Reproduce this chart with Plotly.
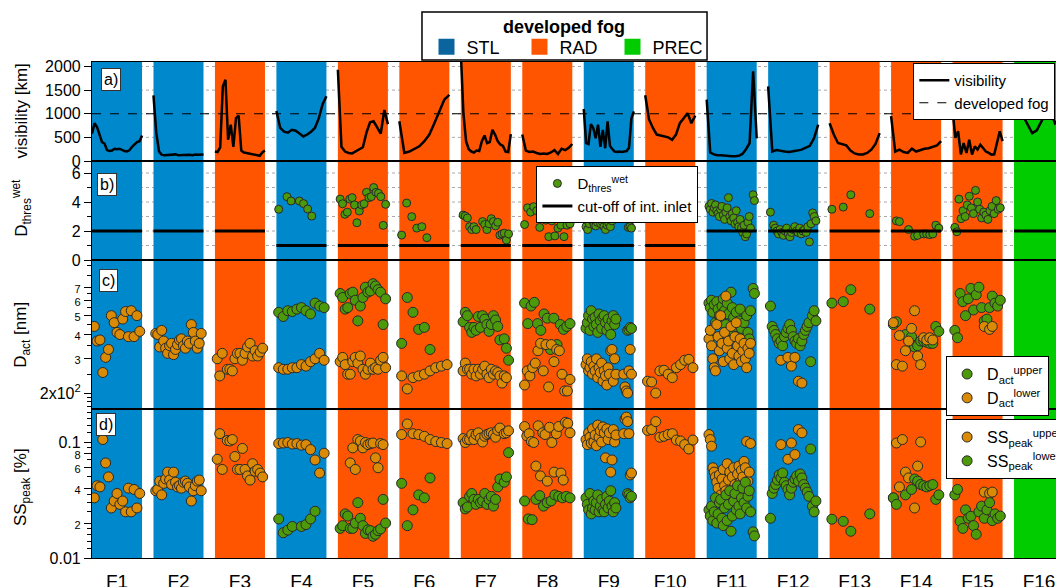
import math
import plotly.graph_objects as go
from plotly.subplots import make_subplots

# ---------------- data ----------------
FOG_LABELS = ["F1", "F2", "F3", "F4", "F5", "F6", "F7", "F8",
              "F9", "F10", "F11", "F12", "F13", "F14", "F15", "F16"]
FOG_TYPES = ["STL", "STL", "RAD", "STL", "RAD", "RAD", "RAD", "RAD",
             "STL", "RAD", "STL", "STL", "RAD", "RAD", "RAD", "PREC"]
TYPE_NAMES = ["STL", "RAD", "PREC"]
FOG_VIS_THRESHOLD = 1000
CUTOFF = [2, 2, 2, 1, 1, 1, 1, 1, 1, 1, 2, 2, 2, 2, 2, 2]

VISIBILITY = [
    [580, 800, 720, 560, 400, 370, 230, 210, 220, 260, 250, 260, 230, 210, 200, 230, 300, 360, 400, 420, 540],
    [1390, 600, 200, 130, 120, 125, 130, 140, 140, 120, 125, 120, 125, 130, 120, 135, 130, 125, 135],
    [200, 190, 290, 1580, 1720, 450, 770, 300, 910, 960, 220, 180, 170, 160, 150, 130, 120, 110, 180, 220],
    [1060, 700, 620, 600, 660, 640, 580, 520, 560, 620, 700, 900, 1200, 1370],
    [1930, 300, 200, 170, 160, 200, 240, 290, 600, 820, 840, 700, 580, 1080, 780],
    [840, 170, 200, 250, 310, 420, 560, 800, 1050, 1300, 1400],
    [2300, 1000, 420, 250, 200, 180, 220, 210, 420, 540, 380, 400, 660, 560, 420, 350, 320, 200, 190, 570],
    [560, 220, 190, 200, 170, 150, 160, 150, 180, 230, 150, 260, 230, 280, 360],
    [1100, 380, 360, 780, 700, 480, 770, 300, 660, 270, 840, 320, 250, 200, 190, 200, 190, 200, 210, 280, 900, 1050],
    [1390, 880, 700, 560, 540, 520, 500, 450, 560, 800, 900, 1010, 800, 960],
    [1300, 180, 140, 120, 120, 110, 110, 100, 100, 110, 150, 250, 380, 1900, 480],
    [1580, 200, 230, 210, 200, 190, 200, 220, 240, 280, 320, 480, 770],
    [800, 560, 380, 350, 330, 220, 160, 140, 140, 170, 240, 360, 590],
    [950, 200, 240, 190, 170, 260, 200, 230, 260, 270, 300, 330, 420],
    [1080, 490, 630, 140, 380, 170, 450, 135, 310, 240, 345, 275, 200, 170, 135, 140, 420, 630, 420],
    [1500, 1250, 950, 760, 590, 650, 850, 1020, 1050, 800, 900, 1000],
]

D_THRES = [
    [], [], [],
    [3.5, None, 4.37, 4.07, None, 4.07, 3.89, 3.52, 3.03, None, None, None],
    [4.2, 3.88, 3.15, 3.3, 4.2, 4.3, 3.8, 2.57, 3.38, 3.8, 3.88, 4.67, 4.3, 4.37, 5.0, 4.67, 4.6, 4.37, 2.39, 3.84],
    [1.72, 3.93, 2.99, 2.2, 2.3, 1.54, None, None, None, None],
    [3.1, 3.03, 2.9, 2.3, 2.1, 2.3, 2.1, None, None, 2.65, 2.45, 2.1, 2.5, 2.85, 2.65, 2.35, 2.6, 1.72, 1.8, 1.85, 1.38, 1.8],
    [2.45, 3.6, 3.3, 3.68, 3.4, 2.25, 2.95, 2.75, 1.61, 2.7, 1.66, 2.2, 2.4, 1.61, 2.4, 2.5],
    [2.3, 2.1, 2.5, 2.97, 2.7, 2.4, 2.35, 2.6, 2.8, 2.5, 2.65, 2.3, 2.1, 2.4, 2.55, 2.3, 2.7,
     None, None, None, None, None, None, None, None, None, 2.25, 2.3, 2.2],
    [],
    [3.7, 3.5, 3.9, 3.3, 3.6, 3.8, 3.4, 3.2, 3.0, 3.5, 3.7, 3.1, 2.8, 3.3, 3.6, 4.3, 3.0, 2.7, 3.2, 2.9,
     2.5, 3.4, 2.6, 2.3, 2.8, 2.2, 1.9, 2.4, 1.6, 1.8, 2.6, 3.0, 2.2, None, 4.5, 4.1],
    [3.3, None, 2.4, 2.2, 2.0, 1.8, 2.1, 1.9, 1.7, 2.0, 2.2, 1.8, 1.6, 1.9, 2.1, 2.3, 2.0, 1.9, 2.2, 1.8,
     2.0, 2.1, 1.9, 2.3, 1.25, 2.5, 3.25, 3.0, 2.7],
    [3.5, None, None, 3.65, None, 4.5, None, None, None, None, 3.2, None, None],
    [None, 2.7, 2.65, None, None, 2.1, None, 1.64, 1.7, None, 1.8, 1.8, 1.75, 1.8, 2.4, 2.2],
    [2.25, 1.95, 4.2, 2.85, 3.4, 3.0, 3.8, 4.4, 3.6, 3.2, 4.8, 4.0, 3.5, 2.9, 3.3, 3.1, 2.8, 3.4, 3.7, 3.2, 4.1, 3.5, 3.6],
    [],
]

D_UPPER = [
    [], [], [],
    [520, 495, 530, 525, 540, 550, 530, 510, 580, 560, 550],
    [650, 620, 540, 550, 650, 660, 600, 470, 560, 620, 700, 660, 670, 730, 710, 680, 660, 450, 610],
    [360, 620, 520, 425, 435, 335, None, None, None],
    [465, 520, 500, 435, 410, 435, 420, 495, 435, 500, 480, 450, 415, 450, 500, 475, 440, 375, None, 380, 340, 295],
    [580, 455, 560, 585, 455, 420, 510, 485, 335, 485, 355, 450, 425, 440, 455],
    [430, 460, 500, 420, 530, 480, 440, 490, 450, 410, 510, 470, 430, 490, 500, 460, 420, 480, 440, 400,
     470, 500, 450, 480, None, None, None, None, None, None, None, None, 420, 425, 435, 430],
    [],
    [580, 550, 600, 520, 570, 460, 590, 540, 500, 480, 560, 610, 530, 450, 580, 510, 420, 660, 550, 490,
     440, 520, 390, 470, 540, 430, 360, 460, 340, 500, 410, 380, 530, None, 690, 650],
    [560, 440, 420, 400, 380, 360, 370, 350, 390, 410, 430, 450, 420, 390, 370, 360, 380, 350, 370, 400,
     420, 440, 460, 290, 500, 530, 470],
    [580, None, None, 590, None, 680, None, None, None, None, 540, None, None],
    [450, 465, None, None, 400, None, 390, 345, 350, 370, 370, 365, 360, 360, 440, 415],
    [420, 385, 650, 590, 500, 610, 690, 535, 640, 700, 550, 470, 480, 550, 630, 580, 560, 600],
    [],
]

D_LOWER = [
    [440, 370, 375, 255, 305, 335, 500, 460, 410, 400, 480, 525, 390, 530, 390, 500, 415],
    [405, 400, 345, 420, 370, 340, 320, 350, 360, 315, 335, 355, 375, 380, 350, 340, 370, 360, 450, 410, 370, 340, 360, 405],
    [300, 245, 320, None, 265, 265, 260, 300, 320, 320, 295, 320, 345, 360, 310, 330, 310, 325, 340],
    [270, 265, 265, 270, 270, 280, 275, 290, 300, 320, 295],
    [290, 305, 280, 250, 250, 290, 305, 285, 310, 265, 250, 265, 285, 265, 270, 265, 295, 305, 270],
    [245, 210, 240, 245, 250, 260, 270, 275, 280],
    [260, 285, 265, 265, 250, 265, 245, 265, 250, 265, 275, 250, 240, 265, 250, 260, 255, 245, 225, 245, 240, None],
    [220, 260, 245, 270, 285, 330, 360, 260, 355, 215, 355, 290, 335, 330, 250, 205, 205, 235],
    [280, 300, 260, 270, 290, 250, 275, 260, 300, 240, 270, 255, 285, 230, 260, 245, 220, 270, 250, 330,
     335, 230, 300, 250, None, None, None, None, None, 250, 215, 205, 200, 260, 335, 250],
    [230, 228, 200, 260, 262, 250, 240, 270, 280, 295, 298, 270],
    [380, 420, 350, 300, 270, 260, 450, 390, 330, 500, 360, 290, 410, 630, 340, 370, 300, 440, 320, 280,
     390, 460, 350, 310, 380, 290, 330, 360, 300, 270, 340, 320, 360, None, None, None],
    [None, None, None, 295, None, 305, 275, 305, 230, 225, None, None, None, None],
    [],
    [460, 280, 395, 275, 330, 370, 430, 530, 310, 280, 385, 375, 385, 375, None, None],
    [None, None, None, None, None, None, None, None, None, None, None, 440, None, 425, 440, None, None, None],
    [],
]

SS_UPPER = [
    [0.033, 0.042, 0.041, 0.105, 0.066, 0.050, 0.027, 0.031, 0.036, 0.029, 0.031, 0.025, 0.040, 0.025, 0.039, 0.027, 0.036],
    [0.038, 0.039, 0.046, 0.035, 0.044, 0.048, 0.055, 0.047, 0.043, 0.055, 0.045, 0.041, 0.042, 0.040, 0.045, 0.046,
     0.044, 0.041, 0.031, 0.038, 0.042, 0.046, 0.047, 0.038],
    [0.071, 0.118, 0.058, None, 0.103, 0.102, 0.105, 0.075, 0.058, 0.058, 0.088, 0.058, 0.051, 0.047, 0.065, 0.056,
     0.058, 0.054, 0.050],
    [0.097, 0.098, 0.099, 0.096, 0.097, 0.094, 0.095, 0.086, 0.070, 0.054, 0.080],
    [None, None, None, None, 0.066, 0.089, 0.058, 0.105, 0.102, 0.089, 0.099, 0.095, 0.097, 0.098, 0.073, 0.060,
     0.097, 0.095, None],
    [0.116, 0.143, 0.118, 0.116, 0.112, 0.105, 0.101, 0.099, 0.097],
    [0.107, 0.099, 0.105, 0.105, 0.116, 0.105, 0.116, 0.120, 0.108, 0.100, 0.112, 0.116, 0.118, 0.120, 0.116, 0.110,
     0.126, 0.132, None, 0.118, 0.120, 0.125],
    [0.136, 0.113, 0.118, 0.101, 0.099, 0.062, 0.138, 0.051, 0.120, 0.116, 0.046, 0.134, 0.099, 0.055, 0.118, 0.136,
     0.054, 0.047, 0.148, 0.145, 0.120],
    [0.105, 0.095, 0.12, 0.11, 0.098, 0.13, 0.1, 0.115, 0.093, 0.14, 0.11, 0.125, 0.1, 0.135, 0.12, 0.073, 0.13,
     0.105, 0.12, 0.055, 0.07, 0.128, 0.1, 0.115, None, None, None, None, None, 0.118, 0.158, 0.164, 0.15, 0.118,
     0.052, 0.054],
    [0.126, 0.128, 0.150, 0.110, 0.112, 0.116, 0.118, 0.104, 0.102, 0.095, 0.087, 0.104],
    [0.116, 0.105, 0.092, 0.060, 0.055, 0.050, 0.045, 0.040, 0.052, 0.035, 0.048, 0.058, 0.042, 0.038, 0.065, 0.047,
     0.055, 0.036, 0.050, 0.060, 0.043, 0.040, 0.053, 0.062, 0.045, 0.057, 0.050, 0.068, 0.060, 0.101, 0.046, 0.055,
     0.097, None, None, None],
    [None, None, None, 0.095, None, 0.071, 0.098, 0.078, 0.128, 0.120, None, None, None, None],
    [],
    [0.033, 0.098, 0.041, 0.105, 0.055, 0.049, None, 0.027, 0.062, 0.100, None, None, None, None, None, None],
    [None, None, None, None, None, None, None, None, None, None, None, 0.037, None, 0.036, 0.037, None, None, None],
    [],
]

SS_LOWER = [
    [], [], [],
    [0.0217, 0.0165, 0.0174, 0.0187, None, 0.0187, 0.0194, 0.0217, 0.0253, None, None],
    [0.018, 0.019, 0.024, 0.023, 0.018, 0.018, 0.020, 0.030, 0.022, 0.019, 0.0163, 0.0175, 0.0172, 0.0154, 0.016,
     0.0172, 0.0178, 0.032, 0.020],
    [0.044, 0.019, 0.026, 0.035, 0.033, 0.049, None, None, None],
    [0.030, 0.0265, 0.0275, 0.034, 0.036, 0.032, 0.029, 0.032, 0.030, 0.031, 0.036, 0.029, 0.032, 0.034, 0.028,
     0.032, 0.041, 0.048, None, 0.045, 0.050, 0.081],
    [0.031, 0.0217, 0.0214, 0.032, 0.0345, 0.028, 0.030, 0.031, 0.035, 0.034, 0.033, 0.034, 0.033],
    [0.033, 0.029, 0.026, 0.036, 0.024, 0.027, 0.031, 0.026, 0.030, 0.035, 0.025, 0.028, 0.032, 0.026, 0.025, 0.029,
     0.034, 0.027, 0.031, 0.038, 0.028, 0.025, 0.030, 0.027, None, None, None, None, None, None, None, None,
     0.036, 0.035, 0.033, 0.034],
    [],
    [0.026, 0.023, 0.028, 0.021, 0.025, 0.033, 0.020, 0.024, 0.030, 0.032, 0.022, 0.019, 0.027, 0.035, 0.021, 0.029,
     0.038, 0.017, 0.023, 0.031, 0.036, 0.026, 0.042, 0.028, 0.024, 0.033, 0.040, 0.030, 0.045, 0.027, 0.034, 0.038,
     0.025, None, 0.0168, 0.0155],
    [0.022, 0.036, 0.040, 0.043, 0.047, 0.052, 0.049, 0.054, 0.045, 0.042, 0.039, 0.035, 0.040, 0.045, 0.048, 0.051,
     0.046, 0.053, 0.049, 0.043, 0.040, 0.037, 0.034, 0.087, 0.028, 0.025, 0.031],
    [0.0216, None, None, 0.0207, None, 0.017, None, None, None, None, 0.024, None, None],
    [0.033, 0.029, None, None, 0.035, None, 0.039, 0.048, 0.046, 0.043, 0.042, 0.041, 0.042, 0.043, 0.032, 0.035],
    [0.035, 0.039, 0.0207, 0.018, 0.026, 0.022, 0.0229, 0.019, 0.016, 0.025, 0.028, 0.022, 0.026, 0.030, 0.021,
     0.024, 0.022, 0.023],
    [],
]

# grid / tick values per panel
VIS_TICKS = [0, 500, 1000, 1500, 2000]
THRES_TICKS = [0, 2, 4, 6]
THRES_MINOR = [1, 3, 5]
DACT_TICKS = [200, 300, 400, 500, 600, 700]
DACT_MINOR = [170, 180, 190, 250, 350, 450, 550, 650, 800, 900]
SS_TICKS = [0.01, 0.02, 0.04, 0.06, 0.08, 0.1]
SS_MINOR = [0.012, 0.014, 0.016, 0.018, 0.025, 0.03, 0.035, 0.05, 0.07, 0.09, 0.12, 0.14, 0.16, 0.18]

# ---------------- styles ----------------
FONT = "Liberation Sans, Arial, sans-serif"
TYPE_COLORS = {"STL": "#0088CC", "RAD": "#FF5500", "PREC": "#00CC00"}
LEGEND_SWATCH = {"STL": "#0A649E", "RAD": "#FF5500", "PREC": "#00CC00"}
GREEN_PT = "#4C9A0A"
ORANGE_PT = "#DA8A04"
EDGE = "#2a2a2a"
GRID_COLOR = "#a8a8a8"
COL_HALF = 0.407
PT_HALF = 0.37
X_MIN, X_MAX = 0.593, 16.276


def spread(series, half, gap=True):
    xs, ys = [], []
    for i, vals in enumerate(series):
        n = len(vals)
        for k, v in enumerate(vals):
            x = (i + 1) if n == 1 else (i + 1 - half + 2 * half * k / (n - 1))
            xs.append(x)
            ys.append(v)
        if gap:
            xs.append(None)
            ys.append(None)
    return xs, ys


fig = make_subplots(rows=4, cols=1, shared_xaxes=True, vertical_spacing=0,
                    row_heights=[99, 99, 149, 149])

# legend 1: fog types (dummy entries)
for t in TYPE_NAMES:
    fig.add_trace(go.Scatter(x=[None], y=[None], mode="markers", name=t,
                             marker=dict(symbol="square", size=16, color=LEGEND_SWATCH[t]),
                             legend="legend", showlegend=True), row=1, col=1)

# panel a
vx, vy = spread(VISIBILITY, COL_HALF)
fig.add_trace(go.Scatter(x=vx, y=vy, mode="lines", name="visibility",
                         line=dict(color="black", width=2.5), legend="legend2"), row=1, col=1)
fig.add_trace(go.Scatter(x=[X_MIN, X_MAX], y=[FOG_VIS_THRESHOLD, FOG_VIS_THRESHOLD], mode="lines",
                         name="developed fog", line=dict(color="black", width=1.2, dash="dash"),
                         legend="legend2"), row=1, col=1)

# panel b
tx, ty = spread(D_THRES, PT_HALF, gap=False)
fig.add_trace(go.Scatter(x=tx, y=ty, mode="markers", name="D<sub>thres</sub><sup>wet</sup>",
                         marker=dict(color=GREEN_PT, size=8, line=dict(color=EDGE, width=1)),
                         legend="legend3"), row=2, col=1)
cx, cy = spread([[c, c] for c in CUTOFF], COL_HALF)
fig.add_trace(go.Scatter(x=cx, y=cy, mode="lines", name="cut-off of int. inlet",
                         line=dict(color="black", width=3), legend="legend3"), row=2, col=1)

# panel c
ux, uy = spread(D_UPPER, PT_HALF, gap=False)
lx, ly = spread(D_LOWER, PT_HALF, gap=False)
fig.add_trace(go.Scatter(x=ux, y=uy, mode="markers", name="D<sub>act</sub><sup>upper</sup>",
                         marker=dict(color=GREEN_PT, size=10, line=dict(color=EDGE, width=1)),
                         legend="legend4"), row=3, col=1)
fig.add_trace(go.Scatter(x=lx, y=ly, mode="markers", name="D<sub>act</sub><sup>lower</sup>",
                         marker=dict(color=ORANGE_PT, size=10, line=dict(color=EDGE, width=1)),
                         legend="legend4"), row=3, col=1)

# panel d
sux, suy = spread(SS_UPPER, PT_HALF, gap=False)
slx, sly = spread(SS_LOWER, PT_HALF, gap=False)
fig.add_trace(go.Scatter(x=sux, y=suy, mode="markers", name="SS<sub>peak</sub><sup>upper</sup>",
                         marker=dict(color=ORANGE_PT, size=10, line=dict(color=EDGE, width=1)),
                         legend="legend5"), row=4, col=1)
fig.add_trace(go.Scatter(x=slx, y=sly, mode="markers", name="SS<sub>peak</sub><sup>lower</sup>",
                         marker=dict(color=GREEN_PT, size=10, line=dict(color=EDGE, width=1)),
                         legend="legend5"), row=4, col=1)

# dotted horizontal grid (drawn first) then fog-type columns on top of it
shapes = []
panel_grids = [(VIS_TICKS, False), (THRES_TICKS + THRES_MINOR, False),
               (DACT_TICKS + DACT_MINOR, True), (SS_TICKS + SS_MINOR, True)]
for r, (vals, is_log) in enumerate(panel_grids, start=1):
    xr = "x domain" if r == 1 else f"x{r} domain"
    yr = "y" if r == 1 else f"y{r}"
    for v in vals:
        yv = math.log10(v) if is_log else v
        shapes.append(dict(type="line", xref=xr, yref=yr, x0=0, x1=1, y0=yv, y1=yv,
                           line=dict(color=GRID_COLOR, width=1, dash="dot"), layer="below"))
for r in range(1, 5):
    xr = "x" if r == 1 else f"x{r}"
    yr = "y domain" if r == 1 else f"y{r} domain"
    for i, t in enumerate(FOG_TYPES):
        shapes.append(dict(type="rect", xref=xr, yref=yr, x0=i + 1 - COL_HALF, x1=i + 1 + COL_HALF,
                           y0=0, y1=1, fillcolor=TYPE_COLORS[t], line=dict(width=0), layer="below"))

# frame of the top "developed fog" legend
shapes.append(dict(type="rect", xref="paper", yref="paper", x0=0.3423, x1=0.638, y0=1.004, y1=1.1008,
                   line=dict(color="black", width=1.5), fillcolor="white", layer="above"))

AX = dict(showline=True, linecolor="black", linewidth=1.2, ticks="outside", ticklen=7,
          tickcolor="black", zeroline=False, showgrid=False, automargin=False,
          tickfont=dict(size=16, color="black"))
MINOR = dict(ticks="outside", ticklen=4, tickcolor="black", showgrid=False)

fig.update_xaxes(range=[X_MIN, X_MAX], showgrid=False, zeroline=False, showline=True, automargin=False,
                 linecolor="black", linewidth=1.2, mirror=True, ticks="", showticklabels=False)
fig.update_xaxes(row=4, col=1, showticklabels=True, tickmode="array",
                 tickvals=list(range(1, len(FOG_LABELS) + 1)), ticktext=FOG_LABELS,
                 tickfont=dict(size=19, color="black"), ticklen=0, ticklabelstandoff=6)

small = lambda s: f"<span style='font-size:11px'>{s}</span>"

fig.update_yaxes(row=1, col=1, range=[0, 2095], tickmode="array", tickvals=VIS_TICKS, **AX)
fig.update_yaxes(row=2, col=1, range=[0, 6.83], tickmode="array", tickvals=THRES_TICKS, **AX,
                 minor=dict(tickvals=THRES_MINOR, **MINOR))
fig.update_yaxes(row=3, col=1, type="log", range=[2.219, 2.985], tickmode="array",
                 tickvals=DACT_TICKS,
                 ticktext=["2x10<sup>2</sup>"] + [small(str(v // 100)) for v in DACT_TICKS[1:]],
                 **AX, minor=dict(tickvals=DACT_MINOR, **MINOR))
fig.update_yaxes(row=4, col=1, type="log", range=[-2, -0.7155], tickmode="array",
                 tickvals=SS_TICKS,
                 ticktext=["0.01"] + [small(str(round(v * 100))) for v in SS_TICKS[1:-1]] + ["0.1"],
                 **AX, minor=dict(tickvals=SS_MINOR, **MINOR))

annotations = []
for txt, y in [("visibility [km]", 0.900), ("D<sub>thres</sub><sup>wet</sup>", 0.706),
               ("D<sub>act</sub> [nm]", 0.45), ("SS<sub>peak</sub> [%]", 0.143)]:
    annotations.append(dict(text=txt, xref="paper", yref="paper", x=-0.0726, y=y, textangle=-90,
                            showarrow=False, font=dict(size=17, color="black"),
                            xanchor="center", yanchor="middle"))
for txt, x, y in [("a)", 0.0202, 0.9647), ("b)", 0.0156, 0.754), ("c)", 0.0171, 0.560), ("d)", 0.0145, 0.269)]:
    annotations.append(dict(text=txt, xref="paper", yref="paper", x=x, y=y, showarrow=False,
                            font=dict(size=16, color="black"), bgcolor="white", bordercolor="#333",
                            borderwidth=1, borderpad=2, xanchor="center", yanchor="middle"))
annotations.append(dict(text="<b>developed fog</b>", xref="paper", yref="paper", x=0.4896, y=1.0706,
                        showarrow=False, font=dict(size=18, color="black"),
                        xanchor="center", yanchor="middle"))

LEG = dict(bgcolor="white", bordercolor="black", borderwidth=1, font=dict(size=15, color="black"),
           xanchor="left", yanchor="top", tracegroupgap=0)
LEG_BIG = {k: v for k, v in LEG.items() if k != "font"}

fig.update_layout(
    width=1056, height=587,
    margin=dict(l=92, r=0, t=62, b=29, autoexpand=False),
    paper_bgcolor="white", plot_bgcolor="white",
    font=dict(family=FONT, color="black"),
    shapes=shapes, annotations=annotations,
    legend=dict(orientation="h", x=0.347, xanchor="left", y=1.030, yanchor="middle",
                bgcolor="rgba(0,0,0,0)", borderwidth=0,
                font=dict(size=18, color="black"), entrywidth=48),
    legend2=dict(x=0.852, y=0.998, **LEG),
    legend3=dict(x=0.461, y=0.790, **LEG),
    legend4=dict(x=0.886, y=0.407, font=dict(size=16, color="black"), **LEG_BIG),
    legend5=dict(x=0.886, y=0.280, font=dict(size=16, color="black"), **LEG_BIG),
)

# remove the default 8px page margin so the figure fills the window exactly
fig.write_html("out.html", config={"displayModeBar": False},
               post_script="document.body.style.margin='0';document.documentElement.style.overflow='hidden';")
